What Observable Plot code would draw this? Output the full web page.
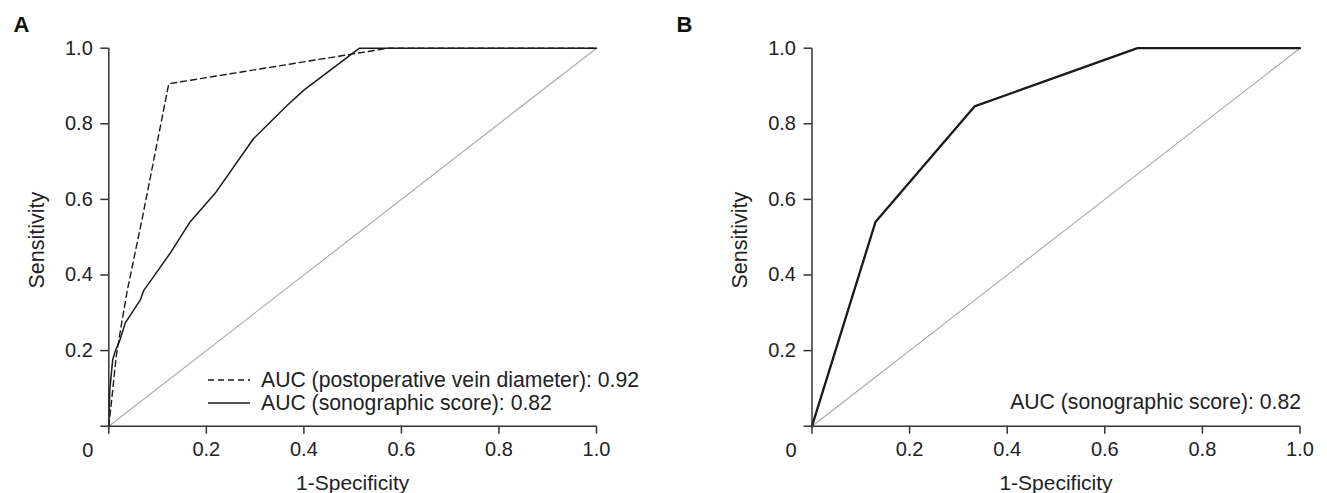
<!DOCTYPE html>
<html>
<head>
<meta charset="utf-8">
<script src="https://cdn.jsdelivr.net/npm/d3@7"></script>
<script src="https://cdn.jsdelivr.net/npm/@observablehq/plot@0.6"></script>
<style>
  html, body { margin: 0; padding: 0; background: #fff; }
  #wrap { position: relative; width: 1327px; height: 493px; display: flex; font-family: "Liberation Sans", Arial, sans-serif; color: #222; }
  #wrap svg { display: block; }
  .legend { position: absolute; font-size: 21.2px; color: #222; line-height: 23px; white-space: nowrap; }
  .legend .row { display: flex; align-items: center; height: 23px; }
  .legend svg { margin-right: 11px; }
</style>
</head>
<body>
<div id="wrap"></div>
<script>
// ---- Data ----
const ticks = [0, 0.2, 0.4, 0.6, 0.8, 1.0];
const refX = [0, 1];
const refY = [0, 1];

// Panel A: sonographic score (solid)
const fprA_score = [0, 0.002, 0.008, 0.013, 0.022, 0.034, 0.045, 0.065, 0.072, 0.085, 0.126, 0.167, 0.218, 0.297, 0.366, 0.400, 0.514, 1.0];
const tprA_score = [0, 0.095, 0.176, 0.198, 0.225, 0.274, 0.295, 0.335, 0.360, 0.383, 0.458, 0.541, 0.616, 0.761, 0.849, 0.889, 1.0, 1.0];
// Panel A: postoperative vein diameter (dashed)
const fprA_vein = [0, 0.008, 0.015, 0.026, 0.038, 0.068, 0.123, 0.573, 1.0];
const tprA_vein = [0, 0.095, 0.183, 0.270, 0.360, 0.546, 0.906, 1.0, 1.0];
// Panel B: sonographic score
const fprB = [0, 0.130, 0.333, 0.667, 1.0];
const tprB = [0, 0.540, 0.846, 1.0, 1.0];

const legendA = ["AUC (postoperative vein diameter): 0.92", "AUC (sonographic score): 0.82"];
const legendB = ["AUC (sonographic score): 0.82"];

const font = "'Liberation Sans', Arial, sans-serif";
const zip = (xs, ys) => xs.map((x, i) => ({x, y: ys[i]}));
const fmt = d => d === 0 ? "" : d.toFixed(1);

function panel({width, marginLeft, marginRight, letter, curves}) {
  return Plot.plot({
    width, height: 493,
    marginLeft, marginRight, marginTop: 47.7, marginBottom: 67.3,
    x: {domain: [0, 1]},
    y: {domain: [0, 1]},
    style: {fontFamily: font, fontSize: "20px", color: "#222", background: "white", overflow: "visible"},
    marks: [
      Plot.line(zip(refX, refY), {x: "x", y: "y", stroke: "#a8a8a8", strokeWidth: 1.1}),
      ...curves,
      Plot.ruleX([0], {y1: 0, y2: 1, stroke: "#333", strokeWidth: 1.5}),
      Plot.ruleY([0], {x1: 0, x2: 1, stroke: "#333", strokeWidth: 1.5}),
      Plot.axisY({ticks, tickFormat: fmt, tickSize: 8, tickPadding: 8, label: null, fontSize: 20, stroke: "#333", strokeWidth: 1.5}),
      Plot.axisX({ticks, tickFormat: fmt, tickSize: 8, tickPadding: 8, label: null, fontSize: 20, stroke: "#333", strokeWidth: 1.5}),
      Plot.text(["0"], {x: () => 0, frameAnchor: "bottom", dy: 24.5, dx: -21, text: d => d, fontSize: 20, lineAnchor: "middle", fill: "#222"}),
      Plot.text(["Sensitivity"], {frameAnchor: "left", rotate: -90, dx: -72, dy: 3, text: d => d, fontSize: 21.5, textAnchor: "middle", lineAnchor: "middle", fill: "#222"}),
      Plot.text(["1-Specificity"], {frameAnchor: "bottom", dy: 57, text: d => d, fontSize: 21, lineAnchor: "middle", fill: "#222"}),
      Plot.text([letter], {frameAnchor: "top-left", dx: -(marginLeft - 13), dy: -16.5, text: d => d, fontSize: 22, fontWeight: "bold", textAnchor: "start", lineAnchor: "bottom", fill: "#111"})
    ]
  });
}

const wrap = document.getElementById("wrap");

const A = panel({
  width: 663, marginLeft: 108.3, marginRight: 67, letter: "A",
  curves: [
    Plot.line(zip(fprA_vein, tprA_vein), {x: "x", y: "y", stroke: "#1a1a1a", strokeWidth: 1.4, strokeDasharray: "6,4"}),
    Plot.line(zip(fprA_score, tprA_score), {x: "x", y: "y", stroke: "#1a1a1a", strokeWidth: 1.5})
  ]
});
const B = panel({
  width: 664, marginLeft: 148.5, marginRight: 27.5, letter: "B",
  curves: [
    Plot.line(zip(fprB, tprB), {x: "x", y: "y", stroke: "#1a1a1a", strokeWidth: 2.3})
  ]
});
wrap.appendChild(A);
wrap.appendChild(B);

// Legends
function sample(dash) {
  return `<svg width="42" height="4"><line x1="0" y1="2" x2="42" y2="2" stroke="#1a1a1a" stroke-width="1.4" ${dash ? 'stroke-dasharray="6,4"' : ''}/></svg>`;
}
const la = document.createElement("div");
la.className = "legend";
la.style.left = "208px";
la.style.top = "368px";
la.innerHTML = legendA.map((t, i) => `<div class="row">${sample(i === 0)}<span>${t}</span></div>`).join("");
wrap.appendChild(la);

const lb = document.createElement("div");
lb.className = "legend";
lb.style.right = (1327 - 1301) + "px";
lb.style.top = "390px";
lb.innerHTML = legendB.map(t => `<div class="row"><span>${t}</span></div>`).join("");
wrap.appendChild(lb);
</script>
</body>
</html>
